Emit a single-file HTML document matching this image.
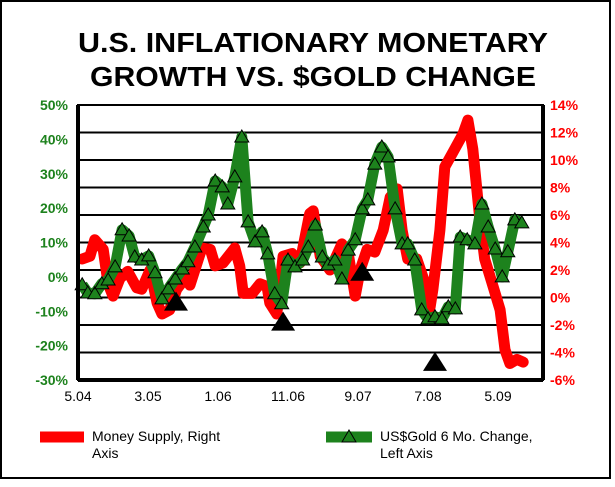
<!DOCTYPE html>
<html><head><meta charset="utf-8"><style>
body{margin:0;background:#fff;}
svg{display:block;font-family:"Liberation Sans",Arial,sans-serif;}
</style></head><body>
<svg id="c" width="615" height="487" viewBox="0 0 615 487">
<rect x="1" y="1" width="609" height="477" fill="#fff" stroke="#000" stroke-width="2"/>
<text x="313" y="52" text-anchor="middle" font-size="28" font-weight="bold" textLength="470" lengthAdjust="spacingAndGlyphs">U.S. INFLATIONARY MONETARY</text>
<text x="313" y="86" text-anchor="middle" font-size="28" font-weight="bold" textLength="446" lengthAdjust="spacingAndGlyphs">GROWTH VS. $GOLD CHANGE</text>
<g id="grid"></g><g id="marks"></g><g id="axes"></g>
<g>
<line x1="40" y1="437" x2="84" y2="437" stroke="#f00" stroke-width="11"/>
<text x="92" y="441" font-size="14">Money Supply, Right</text>
<text x="92" y="458" font-size="14">Axis</text>
<line x1="326" y1="437" x2="372" y2="437" stroke="#1d821d" stroke-width="11"/>
<polygon points="349,430 356,442 342,442" fill="#1d821d" stroke="#000"/>
<text x="380" y="441" font-size="14">US$Gold 6 Mo. Change,</text>
<text x="380" y="458" font-size="14">Left Axis</text>
</g>
</svg>
<script>
const xTickLabels=["5.04","3.05","1.06","11.06","9.07","7.08","5.09"];
const xTickMonths=[0,10,20,30,40,50,60];
const leftTicks=[50,40,30,20,10,0,-10,-20,-30];
const rightTicks=[14,12,10,8,6,4,2,0,-2,-4,-6];
const goldMonths=[0.6,1.4,2.4,3.4,4.3,5.3,6.3,7.3,8.1,9.1,10.1,11,12,12.9,13.9,14.9,15.7,16.7,17.9,18.6,19.6,20.6,21.4,22.4,23.4,24.3,25.3,26.3,27.1,28.1,29.1,30,31,32.1,32.9,33.9,34.9,35.7,36.7,37.7,38.6,39.6,40.6,41.4,42.4,43.4,44.3,45.3,46.3,47.1,48.1,49.1,50,51,52,52.9,53.9,54.6,55.6,56.7,57.7,58.6,59.6,60.6,61.4,62.4,63.4];
const goldValues=[-2.3,-4.7,-4.9,-2,-0.9,2.9,13.7,11.9,5.8,4.9,6.1,1.2,-6.4,-3.5,-0.6,2.3,4.4,8.7,14.5,18,27.9,26.2,21.2,29.1,40.7,16,10.2,13.1,6.7,-4.9,-7.8,4.9,2.9,4.9,8.7,15.1,5.8,3.5,4.9,-0.6,7.8,10.8,19.8,22.4,32.8,37.8,34.9,19.8,9.6,9.6,4.9,-9.6,-12.2,-11.6,-12.2,-8.7,-9.3,11.6,10.8,9.6,21.2,14.5,8.1,0,7.3,16.6,15.7];
const moneyMonths=[0.6,1.7,2.4,3.6,4.3,5,6,7.1,8.4,9.1,10.3,11.3,12,13.1,14.1,15.3,16,17.7,18.9,19.6,20.7,22.4,23.1,23.6,24.9,26,27,27.4,28.4,29.3,30.6,31.7,33.1,33.6,34.6,36,37.7,38.6,39.6,40.3,41.3,42.4,43.6,44.6,45.6,46.3,47.1,48.4,49.6,50.3,50.7,51.7,52.4,53.6,55,55.7,56.4,57.4,58.1,59.3,60.3,61,61.7,62.7,63.6];
const moneyValues=[2.8,3,4.2,3.5,1,0.1,1.4,1.9,0.7,0.6,2,-0.4,-1.2,-0.9,0.6,1.4,0.9,3.6,3.5,2.3,2.5,3.6,2.3,0.3,0.3,1,0.8,-0.4,-1.2,3,3.2,2.5,6.1,6.3,3,2,3.9,3.2,0.1,2,3.5,3.3,4.9,7.3,7.9,4.9,2.8,2.8,1,-0.7,0.6,4.9,9.5,10.6,11.9,12.9,10.8,5.7,2.8,0.8,-0.9,-3.8,-4.8,-4.5,-4.7];
const eventMonths=[14,29.3,40.6,51];
const eventValues=[-7.5,-13.3,1.2,-25];

const L=78,R=543,T=105,B=380;
const xs=m=>L+m*7;
const yl=v=>T+(50-v)/80*(B-T);
const yr=v=>T+(14-v)/20*(B-T);
const NS="http://www.w3.org/2000/svg";
function mk(tag,at,par){const e=document.createElementNS(NS,tag);for(const k in at)e.setAttribute(k,at[k]);par.appendChild(e);return e;}
const grid=document.getElementById('grid'),marks=document.getElementById('marks'),axes=document.getElementById('axes');
rightTicks.forEach(v=>{const g=mk('line',{x1:L,x2:R,y1:yr(v),y2:yr(v),stroke:'#000','stroke-width':2},grid);

});
const fr=mk('rect',{x:L,y:T,width:R-L,height:B-T,fill:'none',stroke:'#000','stroke-width':2},axes);


const la=mk('line',{x1:L,x2:L,y1:T,y2:B,stroke:'#000','stroke-width':4},axes);


const ra=mk('line',{x1:R,x2:R,y1:T,y2:B,stroke:'#000','stroke-width':4},axes);


const ba=mk('line',{x1:L,x2:R,y1:B,y2:B,stroke:'#000','stroke-width':4},axes);


leftTicks.forEach(v=>{const t=mk('text',{x:68,y:yl(v)+5,'text-anchor':'end','font-size':14,'font-weight':'bold',fill:'#1d821d'},axes);t.textContent=v+'%';

});
rightTicks.forEach(v=>{const t=mk('text',{x:550,y:yr(v)+5,'font-size':14,'font-weight':'bold',fill:'#f00'},axes);t.textContent=v+'%';

});
xTickLabels.forEach((s,i)=>{const t=mk('text',{x:xs(xTickMonths[i]),y:401,'text-anchor':'middle','font-size':14,fill:'#000'},axes);t.textContent=s;

});
const rp=mk('polyline',{points:moneyMonths.map((m,i)=>xs(m)+','+yr(moneyValues[i])).join(' '),fill:'none',stroke:'#f00','stroke-width':11,'stroke-linejoin':'round','stroke-linecap':'round'},marks);


const gp=mk('polyline',{points:goldMonths.map((m,i)=>xs(m)+','+yl(goldValues[i])).join(' '),fill:'none',stroke:'#1d821d','stroke-width':11,'stroke-linejoin':'round'},marks);


goldMonths.forEach((m,i)=>{const x=xs(m),y=yl(goldValues[i]);
const p=mk('polygon',{points:`${x},${y-7} ${x+7},${y+5} ${x-7},${y+5}`,fill:'#1d821d',stroke:'#000','stroke-width':1},marks);

});
eventMonths.forEach((m,i)=>{const x=xs(m),y=yl(eventValues[i]);
const p=mk('polygon',{points:`${x},${y-11} ${x+12},${y+8} ${x-12},${y+8}`,fill:'#000'},marks);

});
</script>
</body></html>
